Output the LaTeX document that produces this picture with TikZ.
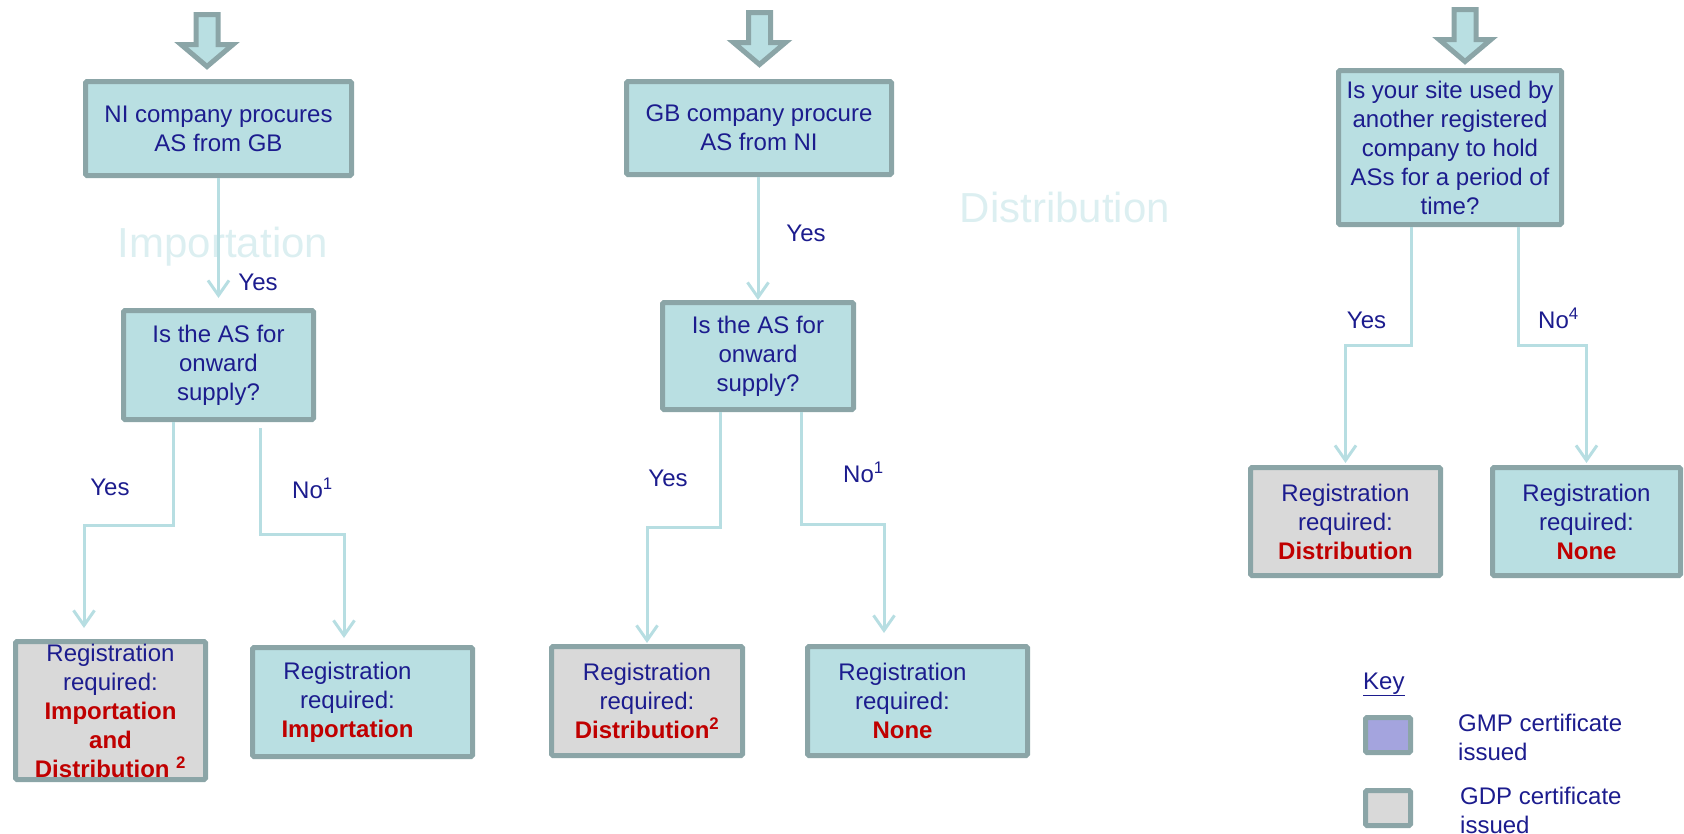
\documentclass[tikz,border=0pt]{standalone}
\usepackage{fontspec}
\setmainfont{Liberation Sans}
\usetikzlibrary{arrows.meta}
\definecolor{boxfill}{RGB}{185,223,226}
\definecolor{bordc}{RGB}{139,165,167}
\definecolor{greyfill}{RGB}{217,217,217}
\definecolor{navy}{RGB}{28,28,142}
\definecolor{regred}{RGB}{192,0,0}
\definecolor{connc}{RGB}{183,222,226}
\definecolor{wmark}{RGB}{220,239,241}
\definecolor{gmpfill}{RGB}{164,164,222}
\newcommand\regout[1]{\textcolor{regred}{\bfseries #1}}
\begin{document}
\begin{tikzpicture}[x=1pt,y=-1pt,
  box/.style={draw=bordc, line width=5pt, fill=boxfill, rounded corners=1.5pt, align=center, inner sep=0pt, text=navy, font=\fontsize{24}{29}\selectfont},
  gbox/.style={box, fill=greyfill},
  boxtext/.style={align=center, inner sep=0pt, text=navy, font=\fontsize{24}{29}\selectfont},
  conn/.style={draw=connc, line width=3pt, -{Straight Barb[length=15pt,width=21pt]}},
  lbl/.style={text=navy, font=\fontsize{24}{29}\selectfont, inner sep=0pt},
  wm/.style={text=wmark, font=\fontsize{42}{50}\selectfont, inner sep=0pt, anchor=base},
  blockarr/.style={draw=bordc, fill=boxfill, line width=5pt, line join=miter}
]
\useasboundingbox (0,0) rectangle (1684,833);

% watermarks
\node[wm] (wmimp) at (223,257) {Importation};
\node[wm] (wmdist) at (1065,222) {Distribution};

% block arrows
\foreach \cx/\ty in {207/12, 759.5/10, 1465/7}
  \draw[blockarr] (\cx-11,\ty+2.5) -- (\cx+11,\ty+2.5) -- (\cx+11,\ty+32.5) -- (\cx+26,\ty+32.5) -- (\cx,\ty+54.5) -- (\cx-26,\ty+32.5) -- (\cx-11,\ty+32.5) -- cycle;

% column A
\node[box, minimum width=266pt, minimum height=94pt] (b1) at (218.5,128.5) {NI company procures\\AS from GB};
\node[box, minimum width=190pt, minimum height=109pt] (b2) at (218.5,365) {Is the AS for\\onward\\supply?};
\node[gbox, minimum width=190pt, minimum height=138pt] (b3) at (110.5,710.5) {Registration\\required:\\\regout{Importation}\\\regout{and}\\\regout{Distribution \textsuperscript{2}}};
\node[box, minimum width=220pt, minimum height=109pt] (b4) at (362.5,702) {};
\node[boxtext] (b4t) at (347.5,702) {Registration\\required:\\\regout{Importation}};

% column B
\node[box, minimum width=265pt, minimum height=93pt] (b5) at (759,128) {GB company procure\\AS from NI};
\node[box, minimum width=191pt, minimum height=107pt] (b6) at (758,356) {Is the AS for\\onward\\supply?};
\node[gbox, minimum width=191pt, minimum height=109pt] (b7) at (647,701) {Registration\\required:\\\regout{Distribution\textsuperscript{2}}};
\node[box, minimum width=220pt, minimum height=109pt] (b8) at (917.5,701) {};
\node[boxtext] (b8t) at (902.5,701) {Registration\\required:\\\regout{None}};

% column C
\node[box, minimum width=223pt, minimum height=154pt] (b9) at (1450,147.5) {Is your site used by\\another registered\\company to hold\\ASs for a period of\\time?};
\node[gbox, minimum width=190pt, minimum height=108pt] (b10) at (1345.5,521.5) {Registration\\required:\\\regout{Distribution}};
\node[box, minimum width=188pt, minimum height=108pt] (b11) at (1586.5,521.5) {Registration\\required:\\\regout{None}};

% connectors
\draw[conn, shorten >=10pt] (b1.south) -- (b1.south |- b2.north);
\draw[conn, shorten >=11pt] ([xshift=-45.5pt]b2.south) -- ++(0,103) -| ([xshift=-26.5pt]b3.north);
\draw[conn, shorten <=6pt, shorten >=7pt] ([xshift=41.5pt]b2.south) -- ++(0,112) -| ([xshift=-18.5pt]b4.north);

\draw[conn] (b5.south -| b6.north) -- (b6.north);
\draw[conn, shorten >=1pt] ([xshift=-38pt]b6.south) -- ++(0,115) -| (b7.north);
\draw[conn, shorten >=11pt] ([xshift=43pt]b6.south) -- ++(0,112) -| ([xshift=-33.5pt]b8.north);

\draw[conn, shorten >=2pt] ([xshift=-39pt]b9.south) -- ++(0,118) -| (b10.north);
\draw[conn, shorten >=2pt] ([xshift=68pt]b9.south) -- ++(0,118) -| (b11.north);

% labels
\node[lbl, anchor=base] (ya1) at (258,290.6) {Yes};
\node[lbl, anchor=base] (ya2) at (110,495.6) {Yes};
\node[lbl, anchor=base west] (na1) at (292,498.6) {No\textsuperscript{1}};
\node[lbl, anchor=base] (yb1) at (806,241.6) {Yes};
\node[lbl, anchor=base] (yb2) at (668,486.6) {Yes};
\node[lbl, anchor=base west] (nb1) at (843,482.6) {No\textsuperscript{1}};
\node[lbl, anchor=base] (yc1) at (1366.5,328.6) {Yes};
\node[lbl, anchor=base west] (nc1) at (1538,328.6) {No\textsuperscript{4}};

% key
\node[lbl, anchor=base west] (keyt) at (1363,689) {\underline{Key}};
\node[draw=bordc, line width=5pt, fill=gmpfill, rounded corners=1.5pt, minimum width=45pt, minimum height=35pt, inner sep=0pt] (kb1) at (1388,735) {};
\node[draw=bordc, line width=5pt, fill=greyfill, rounded corners=1.5pt, minimum width=45pt, minimum height=35pt, inner sep=0pt] (kb2) at (1388,808) {};
\node[lbl, align=left, anchor=north west] (kt1) at (1458,714) {GMP certificate\\issued};
\node[lbl, align=left, anchor=north west] (kt2) at (1460,787) {GDP certificate\\issued};
\end{tikzpicture}
\end{document}
